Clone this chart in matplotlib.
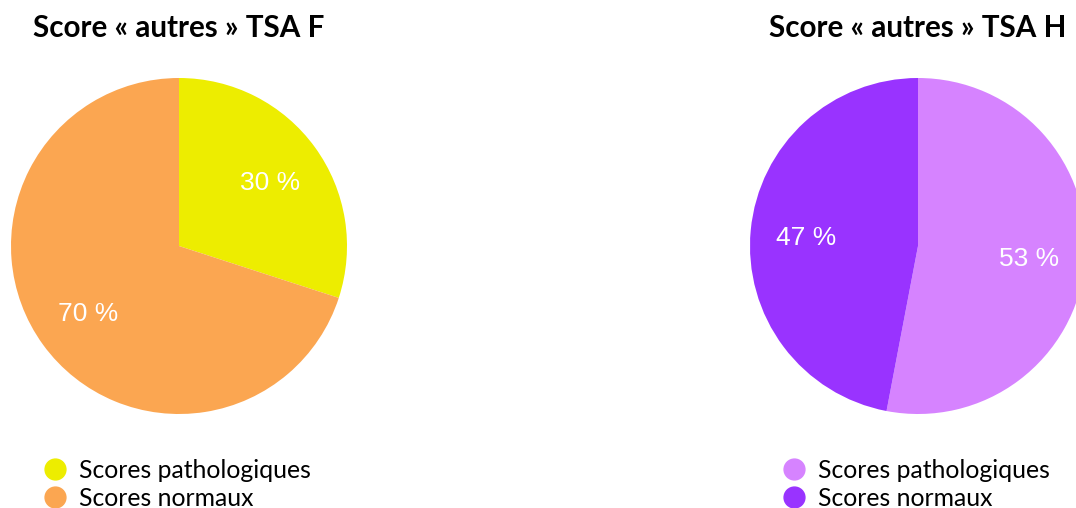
import matplotlib
matplotlib.use("Agg")
import matplotlib.pyplot as plt
from matplotlib.lines import Line2D

categories = ["Scores pathologiques", "Scores normaux"]
values_f = [30, 70]
values_h = [53, 47]
titles = ["Score « autres » TSA F", "Score « autres » TSA H"]
colors_f = ["#EDED00", "#FBA651"]
colors_h = ["#D683FF", "#9933FF"]

W, H = 1076, 508
fig = plt.figure(figsize=(W / 100, H / 100), dpi=100)

def add_pie(x0, values, colors, title, legend_x):
    ax = fig.add_axes([x0 / W, (H - 414) / H, 336 / W, 336 / H])
    _, _, autotexts = ax.pie(values, colors=colors, startangle=90, counterclock=False,
           autopct=lambda p: f"{p:.0f} %", pctdistance=0.667, radius=1,
           wedgeprops=dict(linewidth=0),
           textprops=dict(color="white", fontsize=19, family="Liberation Sans"))
    for t in autotexts:
        x, y = t.get_position()
        t.set_position((x, y - 0.015))
    ax.set_xlim(-1, 1)
    ax.set_ylim(-1, 1)
    ax.set_aspect("equal")
    ax.axis("off")
    fig.text((x0 + 168) / W, 1 - 28 / H, title, ha="center", va="center",
             fontsize=21.3, fontweight="bold", family="Lato")
    handles = [Line2D([0], [0], marker="o", linestyle="none", markersize=15,
                      markerfacecolor=c, markeredgecolor=c) for c in colors]
    fig.legend(handles, categories, loc="upper left",
               bbox_to_anchor=(legend_x / W, 1 - 459 / H), frameon=False,
               prop=dict(family="Lato", size=17.8), handletextpad=0.5,
               labelspacing=0.2, borderpad=0, handlelength=0.9,
               borderaxespad=0)

add_pie(11, values_f, colors_f, titles[0], 44)
add_pie(750, values_h, colors_h, titles[1], 783)

fig.savefig("out.png", dpi=100)
